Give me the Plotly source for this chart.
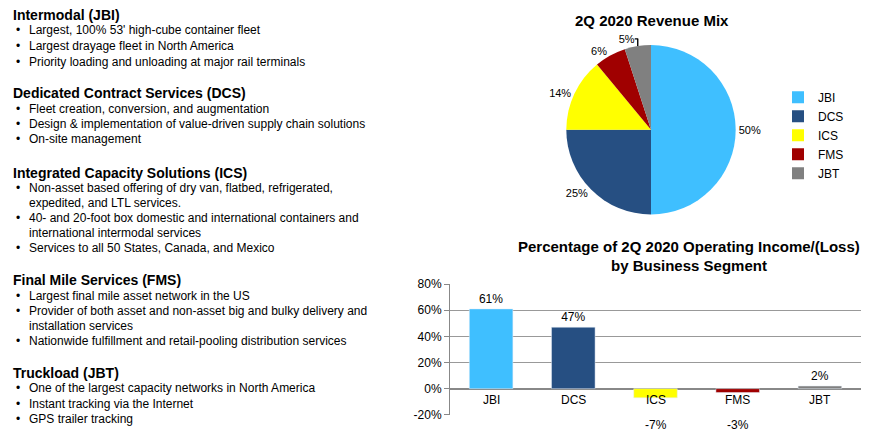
import plotly.graph_objects as go

segments = ["JBI", "DCS", "ICS", "FMS", "JBT"]
revenue_mix = [50, 25, 14, 6, 5]
op_income = [61, 47, -7, -3, 2]
colors = ["#3FBFFF", "#264F82", "#FFFF00", "#A00000", "#808080"]
y_ticks = [-20, 0, 20, 40, 60, 80]

W, H = 884, 437
def px(x): return x / W
def py(y): return 1 - y / H
def tx(x): return px(x)
def ty(y): return py((y - 10) / 0.973)

fig = go.Figure()
fig.add_trace(go.Pie(labels=segments, values=revenue_mix, sort=False, direction="clockwise",
                     marker=dict(colors=colors), textinfo="percent", textposition="outside",
                     texttemplate="%{percent:.0%}", textfont=dict(size=11, color="#000"),
                     domain=dict(x=[px(555), px(731)], y=[py(206), py(31)]), showlegend=True))
fig.add_trace(go.Bar(x=segments, y=op_income, marker=dict(color=colors), width=0.53,
                     text=[f"{v}%" if v > 0 else "" for v in op_income], textposition="outside",
                     textfont=dict(size=12, color="#000"), showlegend=False, cliponaxis=False))

ann = []
def t(x, y, s, size=12, bold=False, xa="left"):
    ann.append(dict(x=tx(x), y=ty(y), xref="paper", yref="paper", text=f"<b>{s}</b>" if bold else s,
                    showarrow=False, xanchor=xa, yanchor="middle",
                    font=dict(size=size, color="#000", family="Liberation Sans, Arial")))

sections = [
    ("Intermodal (JBI)", 10, [(25, "Largest, 100% 53' high-cube container fleet"),
                              (41, "Largest drayage fleet in North America"),
                              (57, "Priority loading and unloading at major rail terminals")]),
    ("Dedicated Contract Services (DCS)", 88, [(104, "Fleet creation, conversion, and augmentation"),
                              (120, "Design & implementation of value-driven supply chain solutions"),
                              (135, "On-site management")]),
    ("Integrated Capacity Solutions (ICS)", 169, [(184, "Non-asset based offering of dry van, flatbed, refrigerated,"),
                              (199, None, "expedited, and LTL services."),
                              (214, "40- and 20-foot box domestic and international containers and"),
                              (229, None, "international intermodal services"),
                              (244, "Services to all 50 States, Canada, and Mexico")]),
    ("Final Mile Services (FMS)", 276, [(292, "Largest final mile asset network in the US"),
                              (308, "Provider of both asset and non-asset big and bulky delivery and"),
                              (323, None, "installation services"),
                              (338, "Nationwide fulfillment and retail-pooling distribution services")]),
    ("Truckload (JBT)", 370, [(385, "One of the largest capacity networks in North America"),
                              (401, "Instant tracking via the Internet"),
                              (416, "GPS trailer tracking")]),
]
for head, hy, items in sections:
    t(3, hy, head, size=14, bold=True)
    for it in items:
        if len(it) == 2:
            t(6, it[0], "•")
            t(19, it[0], it[1])
        else:
            t(19, it[0], it[2])

ann.append(dict(x=px(644), y=py(6), xref="paper", yref="paper", text="<b>2Q 2020 Revenue Mix</b>",
                showarrow=False, xanchor="center", yanchor="middle", font=dict(size=15)))
ann.append(dict(x=px(681), y=py(239), xref="paper", yref="paper",
                text="<b>Percentage of 2Q 2020 Operating Income/(Loss)</b>",
                showarrow=False, xanchor="center", yanchor="middle", font=dict(size=15)))
ann.append(dict(x=px(681), y=py(259), xref="paper", yref="paper", text="<b>by Business Segment</b>",
                showarrow=False, xanchor="center", yanchor="middle", font=dict(size=15)))
for s in segments:
    ann.append(dict(x=s, y=0, xref="x", yref="y", text=s, showarrow=False, yanchor="top", yshift=-2,
                    font=dict(size=12, color="#000")))
for s, v in zip(segments, op_income):
    if v < 0:
        ann.append(dict(x=s, y=-20, xref="x", yref="y", text=f"{v}%", showarrow=False,
                        yanchor="middle", yshift=-10, font=dict(size=12, color="#000")))

fig.update_layout(
    width=W, height=H, margin=dict(l=0, r=0, t=0, b=0), paper_bgcolor="white", plot_bgcolor="white",
    font=dict(family="Liberation Sans, Arial", color="#000"), annotations=ann,
    legend=dict(x=px(770), y=py(70), xanchor="left", yanchor="top", font=dict(size=12),
                tracegroupgap=0, itemwidth=30),
    xaxis=dict(domain=[px(442), px(853)], showticklabels=False, showline=False, ticks=""),
    yaxis=dict(domain=[py(413), py(278)], range=[-20, 80], tickvals=y_ticks,
               ticktext=[f"{v}%" for v in y_ticks], showgrid=True, gridcolor="#999",
               showline=True, linecolor="#888",
               ticks="outside", tickcolor="#888", zeroline=True, zerolinecolor="#888",
               tickfont=dict(size=12)),
)
fig.write_html("out.html")
